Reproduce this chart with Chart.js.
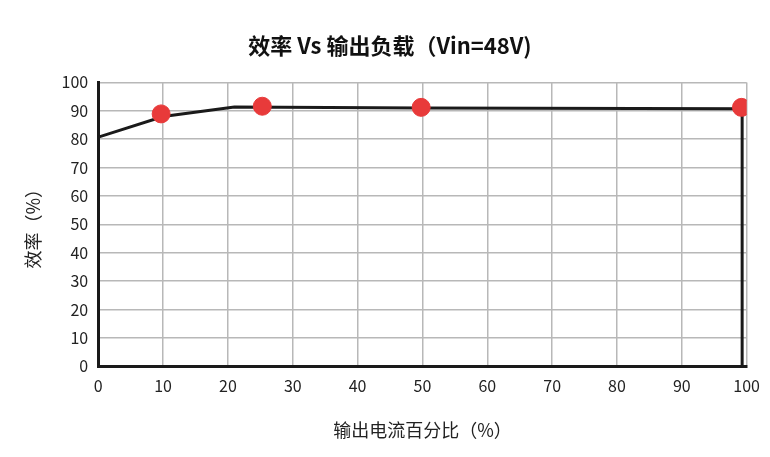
<!DOCTYPE html>
<html><head><meta charset="utf-8">
<script src="https://cdn.jsdelivr.net/npm/chart.js@4"></script>
<style>body{margin:0;background:#fff}#w{width:770px;height:457px}</style>
</head><body><div id="w"><canvas id="c"></canvas></div>
<script>
const lineX = [0, 0, 10, 21, 50, 99.3, 99.3];
const lineY = [0, 80.7, 88, 91.3, 91, 90.7, 0];
const markerX = [9.7, 25.3, 49.8, 99.2];
const markerY = [88.9, 91.6, 91.2, 91.2];
const xTicks = [0,10,20,30,40,50,60,70,80,90,100];
const font = "'Noto Sans CJK SC', 'Noto Sans', sans-serif";
new Chart(document.getElementById('c'), {
  type: 'scatter',
  data: { datasets: [
    { data: markerX.map((x,i)=>({x, y:markerY[i]})), pointRadius: 9, pointHoverRadius: 9,
      backgroundColor: '#e83a3a', borderColor: '#e83a3a', showLine: false, order: 0 },
    { data: lineX.map((x,i)=>({x, y:lineY[i]})), showLine: true, pointRadius: 0,
      borderColor: '#1a1a1a', borderWidth: 3, order: 1 }
  ]},
  options: {
    responsive: true, maintainAspectRatio: false, animation: false,
    layout: { padding: { left: 18, right: 8, top: 14, bottom: 12 } },
    plugins: { legend: { display: false }, tooltip: { enabled: false },
      title: { display: true, text: '效率 Vs 输出负载（Vin=48V)', color: '#111',
        font: { family: font, size: 22, weight: 'bold' }, padding: { top: 18, bottom: 24 } } },
    scales: {
      x: { type: 'linear', min: 0, max: 100,
        afterBuildTicks: a => { a.ticks = xTicks.map(v=>({value:v})); },
        grid: { color: '#b8b8b8', lineWidth: 1.5, drawTicks: false },
        border: { color: '#1a1a1a', width: 3 },
        ticks: { color: '#222', font: { family: font, size: 16 }, padding: 10 },
        title: { display: true, text: '输出电流百分比（%）', color: '#222', font: { family: font, size: 18 }, padding: { top: 14 } } },
      y: { min: 0, max: 100, ticks: { stepSize: 10, color: '#222', font: { family: font, size: 16 }, padding: 10 },
        grid: { color: '#b8b8b8', lineWidth: 1.5, drawTicks: false },
        border: { color: '#1a1a1a', width: 3 },
        title: { display: true, text: '效率（%）', color: '#222', font: { family: font, size: 18 }, padding: { bottom: 8 } } }
    }
  }
});
</script></body></html>
